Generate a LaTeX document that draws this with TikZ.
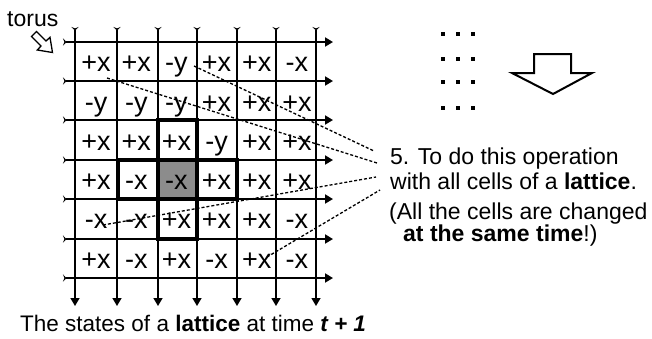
\documentclass[tikz,border=0pt]{standalone}
\usepackage{fontspec}
\setmainfont{Liberation Sans}
\usetikzlibrary{arrows.meta}
\begin{document}
\begin{tikzpicture}[x=1pt,y=-1pt,
  hline/.style={line width=1.8pt, arrows={Stealth[reversed,length=3.5pt,width=7pt,inset=1.5pt]-Triangle[length=8pt,width=9pt]}},
  vline/.style={line width=1.4pt, arrows={Stealth[reversed,length=3.5pt,width=7pt,inset=1.5pt]-Triangle[length=8pt,width=9pt]}},
  boldbox/.style={line width=3.5pt},
  cell/.style={font=\fontsize{27}{27}\selectfont, inner sep=0pt, anchor=base},
  txt/.style={font=\fontsize{23}{23}\selectfont, inner sep=0pt, anchor=base west},
  lead/.style={dash pattern=on 3pt off 2pt, line width=1.3pt},
  hollow/.style={line width=2pt, line join=miter, fill=white}]
\useasboundingbox (0,0) rectangle (652,338);
% shaded centre cell
\fill[black!45] (158,160) rectangle (197,199);
% grid
\foreach \y in {42,81,120,160,199,239,278}
  \draw[hline] (63,\y) -- (333,\y);
\foreach \x in {75,117,158,197,237,276,316}
  \draw[vline] (\x,27) -- (\x,306);
% neighbourhood boxes
\draw[boldbox] (158,120) rectangle (197,160);
\draw[boldbox] (118,160) rectangle (158,199);
\draw[boldbox] (197,160) rectangle (237,199);
\draw[boldbox] (158,199) rectangle (197,239);
% cell states
\foreach \row [count=\r] in {{+x,+x,-y,+x,+x,-x},{-y,-y,-y,+x,+x,+x},{+x,+x,+x,-y,+x,+x},{+x,-x,-x,+x,+x,+x},{-x,-x,+x,+x,+x,-x},{+x,-x,+x,-x,+x,-x}}
  \foreach \lbl [count=\c] in \row
    \node[cell] (c\r\c) at ({75+40.17*(\c-0.5)+1}, {42+39.33*(\r-0.5)+10}) {\lbl};
% texts
\node[txt] (torus) at (7,26) {torus};
\node[txt] (t1) at (390,164) {5. To do this operation};
\node[txt] (t2) at (390,189) {with all cells of a \textbf{lattice}.};
\node[txt] (t3) at (389,219) {(All the cells are changed};
\node[txt] (t4) at (403,241) {\textbf{at the same time}!)};
\node[txt, font=\fontsize{22.5}{22.5}\selectfont] (cap) at (20,331) {The states of a \textbf{lattice} at time \textbf{\textit{t + 1}}};
% torus arrow
\draw[line width=1.3pt, line join=miter, fill=white] (31.5,36.5) -- (41,46) -- (37.3,50) -- (52.5,52.5) -- (50,37.3) -- (46,41) -- (36.5,31.5) -- cycle;
% dots
\foreach \x in {443,458,473}
  \foreach \y in {34,59,82,108}
    \fill (\x-2.2,\y-2.2) rectangle (\x+2.2,\y+2.2);
% big down arrow
\draw[hollow] (534,54) -- (571,54) -- (571,73) -- (592,73) -- (553,94) -- (512,73) -- (534,73) -- cycle;
% leader lines
\coordinate (sA) at (194,66);
\coordinate (sB) at (107,78);
\coordinate (sC) at (103,225);
\coordinate (sD) at (267,257);
\coordinate (eA) at (374,151);
\coordinate (eB) at (377,163);
\coordinate (eC) at (376,177);
\coordinate (eD) at (380,190);
\draw[lead] (sA) -- (eA);
\draw[lead] (sB) -- (eB);
\draw[lead] (sC) -- (eC);
\draw[lead] (sD) -- (eD);
\end{tikzpicture}
\end{document}
